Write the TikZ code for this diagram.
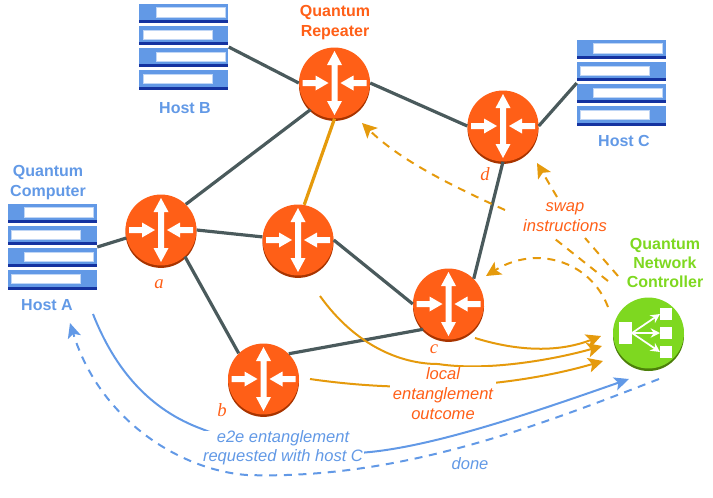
\documentclass[tikz,border=0pt]{standalone}
\usepackage{fontspec}
\setmainfont{Liberation Sans}
\newfontfamily\routerfont{Liberation Serif}
\usetikzlibrary{arrows.meta}
\definecolor{routerorange}{HTML}{FF5F17}
\definecolor{routerdark}{HTML}{A83400}
\definecolor{ctrlgreen}{HTML}{7ED820}
\definecolor{ctrldark}{HTML}{4C7F0A}
\definecolor{hostblue}{HTML}{6299E6}
\definecolor{hostdark}{HTML}{1533A0}
\definecolor{linkgray}{HTML}{4A5A5C}
\definecolor{msgorange}{HTML}{E59A0C}
\tikzset{
	routerface/.style={circle,fill=routerorange,minimum size=53.2pt,inner sep=0pt},
	ctrlface/.style={circle,fill=ctrlgreen,minimum size=53.2pt,inner sep=0pt},
	hostbox/.style={minimum width=66.75pt,minimum height=64.5pt,inner sep=0pt},
	link/.style={linkgray,line width=2.4pt},
	classical/.style={msgorange,line width=1.5pt,-{Stealth[length=11pt,width=11pt,inset=2.5pt]}},
	plainorange/.style={msgorange,line width=1.5pt},
	swapdash/.style={dash pattern=on 6pt off 5pt},
	bluearrow/.style={hostblue,line width=1.5pt,-{Stealth[length=11pt,width=10pt,inset=2.5pt]}},
	bluetitle/.style={hostblue,align=center,font=\bfseries\fontsize{12}{15}\selectfont},
	orangetitle/.style={routerorange,align=center,font=\bfseries\fontsize{12}{15}\selectfont},
	greentitle/.style={ctrlgreen,align=center,font=\bfseries\fontsize{12}{14.5}\selectfont},
	orangenote/.style={routerorange,align=center,inner sep=0pt,font=\itshape\fontsize{12.4}{15}\selectfont},
	bluenote/.style={hostblue,align=center,inner sep=0pt,font=\itshape\fontsize{12.4}{14}\selectfont},
	routerlabel/.style={routerorange,font=\routerfont\itshape\fontsize{14}{14}\selectfont},
}
% one router: name, x, y
\newcommand{\router}[3]{
	\fill[routerdark] (#2,#3+1.4) circle (35.5);
	\node[routerface] (#1) at (#2,#3-1) {};
	\begin{scope}[shift={(#1)}]
		\fill[white] (0,-32)--(7.5,-18)--(3,-18)--(3,18)--(7.5,18)--(0,32)--(-7.5,18)--(-3,18)--(-3,-18)--(-7.5,-18)--cycle;
		\fill[white] (-32,-3)--(-19,-3)--(-19,-7.5)--(-6,0)--(-19,7.5)--(-19,3)--(-32,3)--cycle;
		\fill[white] (32,-3)--(19,-3)--(19,-7.5)--(6,0)--(19,7.5)--(19,3)--(32,3)--cycle;
	\end{scope}
}
% one row of a host: y offset, x offset of the white bar
\newcommand{\hostrow}[2]{
	\fill[hostblue] (0,#1) rectangle (89,#1+16.3);
	\fill[hostdark] (0,#1+16.3) rectangle (89,#1+19.3);
	\filldraw[white,draw=hostblue!40,line width=.4pt] (#2,#1+4) rectangle (#2+69,#1+13.3);
}
\newcommand{\hostrack}[1]{
	\begin{scope}[shift={(#1.north west)}]
		\hostrow{0}{17}
		\hostrow{22.2}{3.7}
		\hostrow{44.4}{17}
		\hostrow{66.6}{3.7}
	\end{scope}
}
\begin{document}
\begin{tikzpicture}[x=0.75pt,y=-0.75pt]
	\useasboundingbox (0,0) rectangle (713,497);

	\router{routera}{161}{231}
	\router{routerb}{263.5}{380}
	\router{routerc}{448.5}{305}
	\router{routerd}{503}{127}
	\router{midrouter}{298}{241}
	\router{toprouter}{334.5}{84}

	\fill[ctrldark] (648.5,335.5) circle (35.5);
	\node[ctrlface] (ctrl) at (648.5,333) {};
	\fill[white] (619,322) rectangle (632,344);
	\fill[white] (660,308) rectangle (672,320);
	\fill[white] (660,327) rectangle (672,339);
	\fill[white] (660,346) rectangle (672,358);
	\coordinate (ctrlout) at (632,333);
	\coordinate (ctrlup) at (660,314);
	\coordinate (ctrlmid) at (660,333);
	\coordinate (ctrldown) at (660,352);
	\draw[white,line width=1.3pt,-{Stealth[length=7pt,width=7pt]}] (ctrlout)--(ctrlup);
	\draw[white,line width=1.3pt,-{Stealth[length=7pt,width=7pt]}] (ctrlout)--(ctrlmid);
	\draw[white,line width=1.3pt,-{Stealth[length=7pt,width=7pt]}] (ctrlout)--(ctrldown);

	\node[hostbox] (hosta) at (52.5,247) {};
	\node[hostbox] (hostb) at (184,47) {};
	\node[hostbox] (hostc) at (621.5,83) {};
	\hostrack{hosta}
	\hostrack{hostb}
	\hostrack{hostc}

	\draw[link] (hosta.east)--(routera.193);
	\draw[link] (hostb.east)--(toprouter.west);
	\draw[link] (hostc.west)--(routerd.east);
	\draw[link] (routera.46)--(toprouter.228);
	\draw[link] (routera.east)--(midrouter.175);
	\draw[link] (routera.-48)--(routerb.134);
	\draw[link] (midrouter.east)--(routerc.west);
	\draw[link] (routerb.45)--(routerc.225);
	\draw[link] (routerc.45)--(routerd.south);
	\draw[link] (toprouter.east)--(routerd.west);
	\draw[msgorange,line width=2.4pt] (midrouter.80)--(toprouter.south);

	\node[bluetitle] (titlea) at (48,183) {Quantum\\Computer};
	\node[bluetitle] (labela) at (47,305) {Host A};
	\node[bluetitle] (labelb) at (185,108) {Host B};
	\node[bluetitle] (labelc) at (624,141) {Host C};
	\node[orangetitle] (titlerep) at (335,23) {Quantum\\Repeater};
	\node[greentitle] (titlectrl) at (665,263) {Quantum\\Network\\Controller};
	\node[routerlabel] (namea) at (159,284) {a};
	\node[routerlabel] (nameb) at (222,410) {b};
	\node[routerlabel] (namec) at (434,349) {c};
	\node[routerlabel] (named) at (485,174) {d};

	% replies from the routers
	\coordinate (fromc) at (475,338);
	\coordinate (frommid) at (320,296);
	\coordinate (fromb) at (310,379);
	\coordinate (toctrla) at (601,336);
	\coordinate (toctrlb) at (602,346);
	\coordinate (toctrlc) at (603,361);
	\draw[classical] (fromc) .. controls (520,352) and (560,352) .. (toctrla);
	\draw[classical] (frommid) .. controls (355,345) and (400,364) .. (438,364) .. controls (490,372) and (560,358) .. (toctrlb);
	\draw[classical] (fromb) .. controls (420,395) and (520,385) .. (toctrlc);
	\node[orangenote,fill=white,minimum width=102pt*0.75,inner xsep=2pt] (notelocal) at (443,393.5) {local\\entanglement\\outcome};

	% swap instructions
	\coordinate (swapc) at (608,307);
	\coordinate (tipc) at (486,276);
	\coordinate (swapd) at (618,276);
	\coordinate (gapd) at (585,238);
	\coordinate (resumed) at (557,197);
	\coordinate (tipd) at (537,163);
	\coordinate (swaptop) at (608,281);
	\coordinate (gaptop) at (555,239);
	\coordinate (resumetop) at (505,210);
	\coordinate (tiptop) at (362,123);
	\draw[classical,swapdash] (swapc) .. controls (590,260) and (535,245) .. (tipc);
	\draw[plainorange,swapdash] (swapd)--(gapd);
	\draw[classical,swapdash] (resumed)--(tipd);
	\draw[plainorange,swapdash] (swaptop)--(gaptop);
	\draw[classical,swapdash] (resumetop) .. controls (450,185) and (400,160) .. (tiptop);
	\node[orangenote] (noteswap) at (565,217) {swap\\instructions};

	% end to end request
	\coordinate (reqstart) at (93,314);
	\coordinate (reqend) at (629,379);
	\coordinate (donestart) at (659,379);
	\coordinate (doneend) at (70,323);
	\draw[bluearrow] (reqstart) .. controls (115,370) and (150,410) .. (202,429) .. controls (255,450) and (310,458) .. (370,452) .. controls (440,445) and (540,410) .. (reqend);
	\node[bluenote,fill=white,inner xsep=1pt] (notereq) at (283,448) {e2e entanglement\\requested with host C};
	\draw[bluearrow,swapdash] (donestart) .. controls (540,425) and (400,480) .. (247,475) .. controls (180,470) and (100,420) .. (doneend);
	\node[bluenote] (notedone) at (470,464) {done};
\end{tikzpicture}
\end{document}
